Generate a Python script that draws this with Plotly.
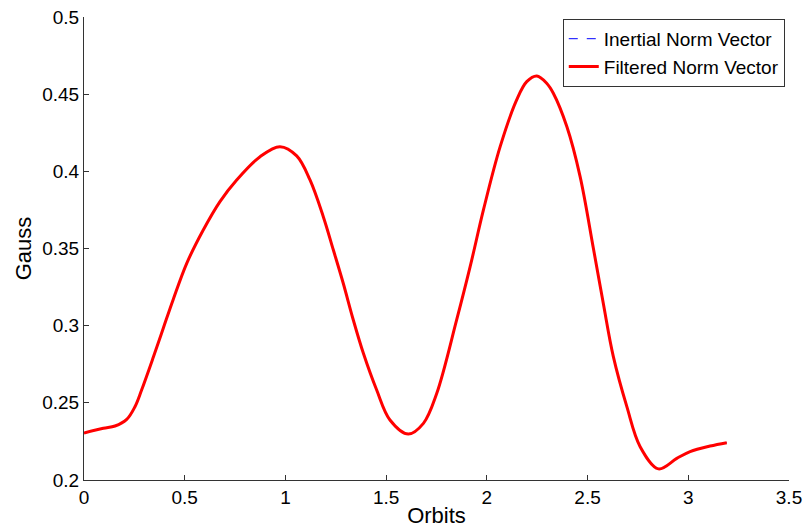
import plotly.graph_objects as go

# Magnetic field norm over the orbit (Gauss)
orbits = [0.000, 0.096, 0.154, 0.212, 0.253, 0.286, 0.344, 0.394, 0.443, 0.510,
          0.592, 0.675, 0.758, 0.874, 0.973, 1.056, 1.122, 1.188, 1.238, 1.287,
          1.337, 1.387, 1.453, 1.519, 1.610, 1.685, 1.751, 1.850, 1.917,
          1.983, 2.066, 2.148, 2.198, 2.248, 2.297, 2.330, 2.397, 2.463, 2.529,
          2.578, 2.628, 2.695, 2.761, 2.852, 2.943, 3.009, 3.108, 3.191]
inertial_norm = [0.2305, 0.2335, 0.2350, 0.2393, 0.2475, 0.2583, 0.2795, 0.2985, 0.3170, 0.3404,
                 0.3620, 0.3804, 0.3944, 0.4095, 0.4160, 0.4100, 0.3944, 0.3706, 0.3490, 0.3275,
                 0.3037, 0.2821, 0.2583, 0.2389, 0.2298, 0.2367, 0.2560, 0.3037, 0.3382,
                 0.3750, 0.4160, 0.4463, 0.4581, 0.4618, 0.4571, 0.4506, 0.4290, 0.3966, 0.3500,
                 0.3145, 0.2799, 0.2475, 0.2216, 0.2072, 0.2140, 0.2184, 0.2220, 0.2242]
filtered_norm = list(inertial_norm)

x_ticks = [0, 0.5, 1, 1.5, 2, 2.5, 3, 3.5]
y_ticks = [0.2, 0.25, 0.3, 0.35, 0.4, 0.45, 0.5]

FONT = "Liberation Sans, Arial, sans-serif"
AXIS_COLOR = "#333333"

fig = go.Figure()
fig.add_trace(go.Scatter(
    x=orbits, y=inertial_norm, mode="lines", name="Inertial Norm Vector",
    line=dict(color="#0000ff", width=1, dash="dash", shape="spline", smoothing=1.0),
))
fig.add_trace(go.Scatter(
    x=orbits, y=filtered_norm, mode="lines", name="Filtered Norm Vector",
    line=dict(color="#ff0000", width=3, shape="spline", smoothing=1.0),
))

axis_common = dict(
    showgrid=False, zeroline=False, showline=True, linecolor=AXIS_COLOR, linewidth=1,
    ticks="inside", ticklen=5, tickwidth=1, tickcolor=AXIS_COLOR, automargin=False,
    tickfont=dict(family=FONT, size=19, color="#000000"), mirror=False,
)

fig.update_layout(
    width=804, height=529,
    margin=dict(l=84, r=15, t=17, b=49),
    paper_bgcolor="white", plot_bgcolor="white",
    font=dict(family=FONT, color="#000000"),
    xaxis=dict(range=[0, 3.5], tickvals=x_ticks, ticktext=[f"{v:g}" for v in x_ticks],
               title=dict(text="Orbits", font=dict(family=FONT, size=22), standoff=0),
               **axis_common),
    yaxis=dict(range=[0.2, 0.5], tickvals=y_ticks, ticktext=[f"{v:g}" for v in y_ticks],
               title=dict(text="Gauss", font=dict(family=FONT, size=22), standoff=4),
               **axis_common),
    legend=dict(
        x=0.994, y=0.996, xanchor="right", yanchor="top",
        bgcolor="white", bordercolor="#333333", borderwidth=1,
        font=dict(family=FONT, size=19, color="#000000"),
        tracegroupgap=0, itemwidth=30,
    ),
    showlegend=True,
)

fig.write_html("out.html")
